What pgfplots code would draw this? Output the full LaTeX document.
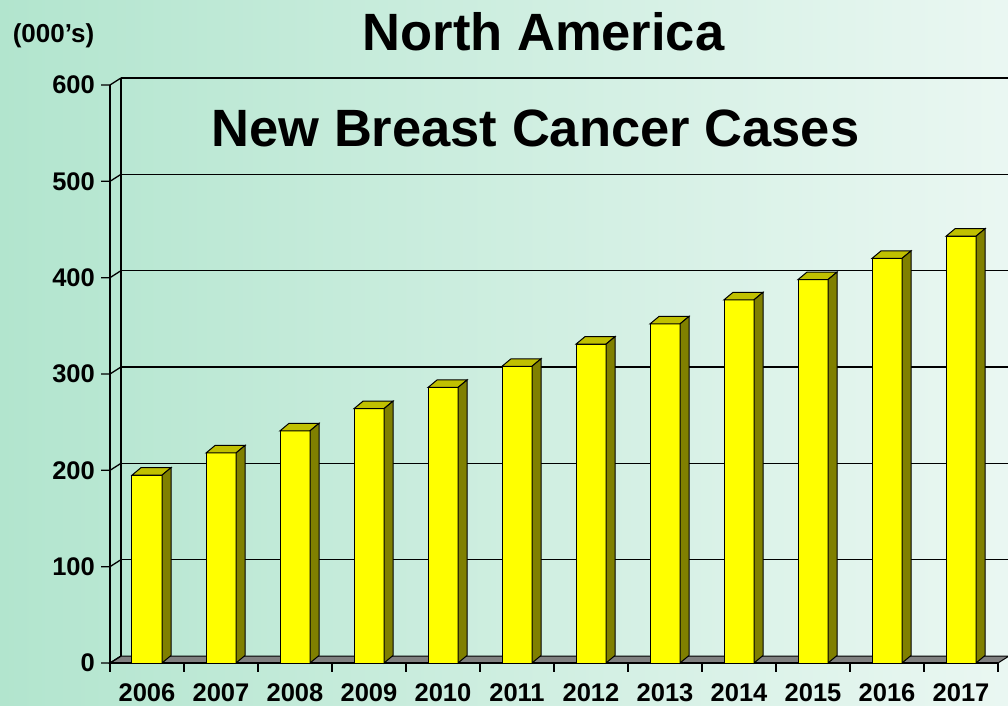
\documentclass[border=0pt]{standalone}
\usepackage{pgfplots}
\pgfplotsset{compat=1.18}
\usepackage{fontspec}
\setmainfont{Liberation Sans}
\definecolor{bgL}{RGB}{178,229,206}
\definecolor{bgR}{RGB}{234,247,242}
\definecolor{barfront}{RGB}{255,255,0}
\definecolor{bartop}{RGB}{192,192,0}
\definecolor{barside}{RGB}{128,128,0}
\definecolor{floorgray}{RGB}{128,128,128}
\begin{document}
\begin{tikzpicture}[x=1pt,y=1pt]
\useasboundingbox (-110,-42) rectangle (898,663);
\clip (-110,-42) rectangle (898,663);
\shade[left color=bgL, right color=bgR] (-110,-42) rectangle (898,663);
% floor
\filldraw[fill=floorgray, draw=black, line width=1pt] (0,0) -- (888,0) -- (899,7) -- (11,7) -- cycle;
% back wall and side wall
\draw[line width=1.3pt] (11,7) -- (11,585);
\draw[line width=1.3pt] (0,0) -- (0,578);
\foreach \v in {0,100,...,600}{
  \pgfmathsetmacro{\yy}{\v*0.963333}
  \draw[line width=1.3pt] (-9,\yy) -- (0,\yy) -- (11,\yy+7);
}
\foreach \v in {100,200,...,600}{
  \pgfmathsetmacro{\yy}{\v*0.963333}
  \draw[line width=1.3pt] (11,\yy+7) -- (920,\yy+7);
}
\foreach \k in {0,...,12}{
  \draw[line width=1.3pt] (74*\k,0) -- (74*\k,-9);
}
\draw[line width=1.3pt] (0,0) -- (888,0);
\begin{axis}[
  x=74pt, y=0.963333pt,
  xmin=-0.5, xmax=11.5, ymin=0, ymax=600,
  clip=false,
  axis x line*=bottom, axis y line*=left,
  axis line style={draw=none},
  tick style={draw=none},
  xtick={0,...,11},
  xticklabels={2006,2007,2008,2009,2010,2011,2012,2013,2014,2015,2016,2017},
  ytick={0,100,...,600},
  /pgf/number format/assume math mode=true,
  yticklabel style={anchor=east, inner sep=0pt, xshift=-15pt, font=\bfseries\fontsize{25.5}{26}\selectfont},
  xticklabel style={anchor=north, inner sep=0pt, yshift=-20.5pt, font=\bfseries\fontsize{25.5}{26}\selectfont},
]
\addplot[ybar, bar width=30pt, fill=barfront, draw=black, line width=1pt]
  coordinates {(0,195) (1,218) (2,241) (3,264) (4,286) (5,308) (6,331) (7,352) (8,377) (9,398) (10,420) (11,443)};
\addplot[scatter, only marks, mark=*, mark size=0pt, mark options={draw=none,fill=none},
  visualization depends on={y \as \rawy},
  scatter/@pre marker code/.code={
    \pgfmathsetmacro{\hn}{-\rawy*0.963333}
    \filldraw[fill=bartop, draw=black, line width=1pt] (-15pt,0pt) -- (15pt,0pt) -- (24pt,7.5pt) -- (-6pt,7.5pt) -- cycle;
    \filldraw[fill=barside, draw=black, line width=1pt] (15pt,0pt) -- (24pt,7.5pt) -- (24pt,\hn pt+7.5pt) -- (15pt,\hn pt) -- cycle;
  },
  scatter/@post marker code/.code={}]
  coordinates {(0,195) (1,218) (2,241) (3,264) (4,286) (5,308) (6,331) (7,352) (8,377) (9,398) (10,420) (11,443)};
\end{axis}
\node[anchor=base, font=\bfseries\fontsize{52.5}{54}\selectfont, inner sep=0pt] at (433.5,612) {North America};
\node[anchor=base, font=\bfseries\fontsize{52.5}{54}\selectfont, inner sep=0pt] at (425.5,516) {New Breast Cancer Cases};
\node[anchor=base, font=\bfseries\fontsize{26}{28}\selectfont, inner sep=0pt] at (-56.5,620) {(000’s)};
\end{tikzpicture}
\end{document}
